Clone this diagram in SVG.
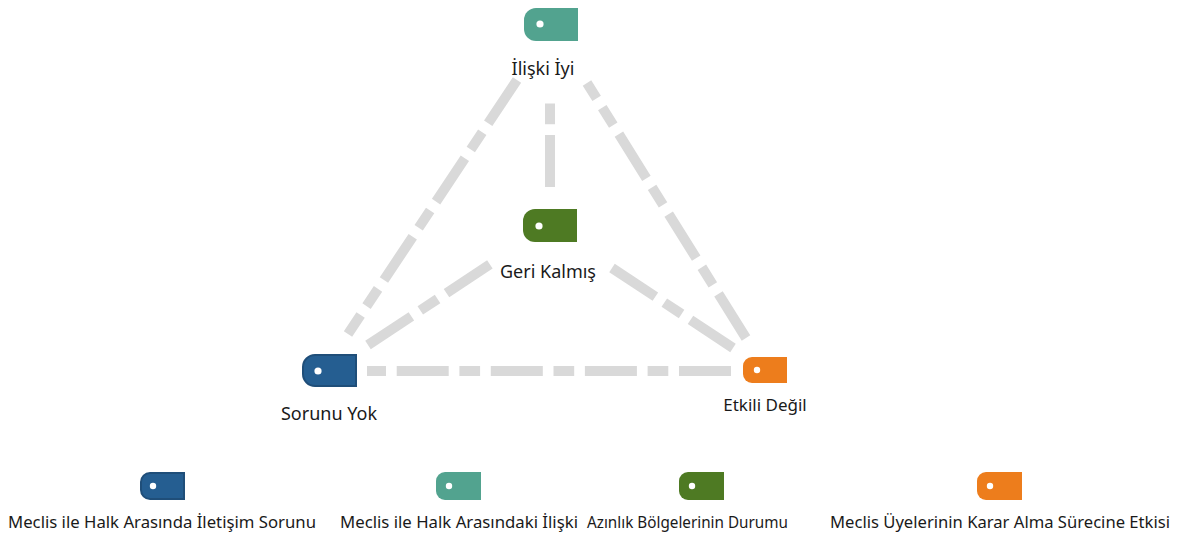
<svg xmlns="http://www.w3.org/2000/svg" width="1179" height="535" viewBox="0 0 1179 535">
<style>
.edge{fill:none;stroke:#d9d9d9;stroke-width:10;stroke-dasharray:52 10.7 20.7 10.7;stroke-linecap:butt}
.lbl{font-family:"Noto Sans","Open Sans",sans-serif;font-size:18px;fill:#1a1a1a;text-anchor:middle}
.leg{font-family:"Noto Sans","Open Sans",sans-serif;font-size:16.5px;fill:#1a1a1a;text-anchor:start}
.dot{fill:#ffffff}
.blue{fill:#255e91;stroke:#1f4e79;stroke-width:2}
.teal{fill:#52a38f}
.green{fill:#4e7a23}
.orange{fill:#ed7d1c}
</style>
<rect width="1179" height="535" fill="#ffffff"/>
<g id="connectors">
<line class="edge" x1="517" y1="80" x2="348" y2="334"/>
<line class="edge" x1="550" y1="187" x2="550" y2="103"/>
<line class="edge" x1="368" y1="345" x2="492" y2="263"/>
<line class="edge" x1="612" y1="268" x2="733" y2="348"/>
<line class="edge" x1="746" y1="338" x2="587" y2="83"/>
<line class="edge" x1="731" y1="371" x2="367" y2="371"/>
</g>
<g id="node-iliski-iyi">
<path class="teal" d="M578 8 V41 H536 A12 12 0 0 1 524 29 V20 A12 12 0 0 1 536 8 Z"/>
<circle class="dot" cx="540" cy="24" r="3.6"/>
<text class="lbl" x="543" y="75">İlişki İyi</text>
</g>
<g id="node-geri-kalmis">
<path class="green" d="M577 209 V242 H535 A12 12 0 0 1 523 230 V221 A12 12 0 0 1 535 209 Z"/>
<circle class="dot" cx="539" cy="226" r="3.6"/>
<text class="lbl" x="548" y="278">Geri Kalmış</text>
</g>
<g id="node-sorunu-yok">
<path class="blue" d="M356 355 V386 H315 A12 12 0 0 1 303 374 V367 A12 12 0 0 1 315 355 Z"/>
<circle class="dot" cx="318" cy="371" r="3.6"/>
<text class="lbl" x="329" y="420">Sorunu Yok</text>
</g>
<g id="node-etkili-degil">
<path class="orange" d="M787 357 V383 H752 A9 9 0 0 1 743 374 V366 A9 9 0 0 1 752 357 Z"/>
<circle class="dot" cx="757" cy="370" r="3.2"/>
<text class="lbl" x="765" y="411" style="font-size:17px">Etkili Değil</text>
</g>
<g id="legend">
<g id="legend-blue">
<path class="blue" d="M184 473 V499 H150 A9 9 0 0 1 141 490 V482 A9 9 0 0 1 150 473 Z"/>
<circle class="dot" cx="153" cy="486" r="3.2"/>
<text class="leg" x="8" y="528" textLength="308" lengthAdjust="spacingAndGlyphs">Meclis ile Halk Arasında İletişim Sorunu</text>
</g>
<g id="legend-teal">
<path class="teal" d="M481 472 V500 H445 A9 9 0 0 1 436 491 V481 A9 9 0 0 1 445 472 Z"/>
<circle class="dot" cx="449" cy="486" r="3.2"/>
<text class="leg" x="340" y="528" textLength="238" lengthAdjust="spacingAndGlyphs">Meclis ile Halk Arasındaki İlişki</text>
</g>
<g id="legend-green">
<path class="green" d="M724 472 V500 H688 A9 9 0 0 1 679 491 V481 A9 9 0 0 1 688 472 Z"/>
<circle class="dot" cx="692" cy="486" r="3.2"/>
<text class="leg" x="587" y="528" textLength="201" lengthAdjust="spacingAndGlyphs">Azınlık Bölgelerinin Durumu</text>
</g>
<g id="legend-orange">
<path class="orange" d="M1022 472 V500 H986 A9 9 0 0 1 977 491 V481 A9 9 0 0 1 986 472 Z"/>
<circle class="dot" cx="990" cy="486" r="3.2"/>
<text class="leg" x="830" y="528" textLength="340" lengthAdjust="spacingAndGlyphs">Meclis Üyelerinin Karar Alma Sürecine Etkisi</text>
</g>
</g>
</svg>
